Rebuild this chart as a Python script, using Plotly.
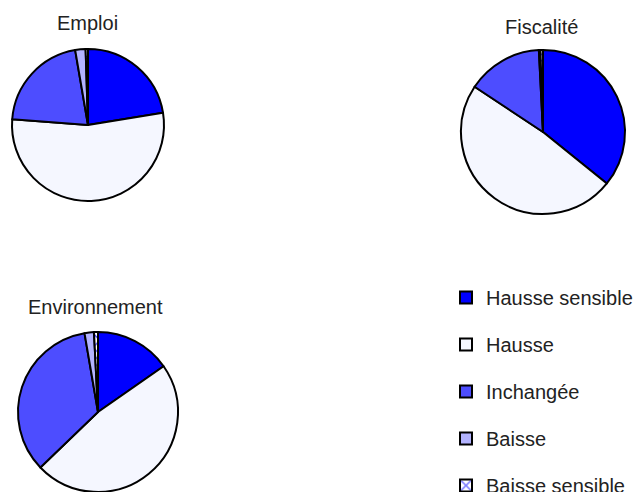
import plotly.graph_objects as go

categories = ["Hausse sensible", "Hausse", "Inchangée", "Baisse", "Baisse sensible"]
emploi = [22.4, 53.8, 21.1, 2.2, 0.5]
fiscalite = [35.8, 48.5, 14.9, 0.3, 0.5]
environnement = [15.3, 47.5, 34.5, 1.9, 0.8]
titles = ["Emploi", "Fiscalité", "Environnement"]

colors = ["#0000FF", "#F5F7FF", "#4D4DFF", "#B3B3FF", "#FFFFFF"]
patterns = ["", "", "", "", "x"]

W, H = 642, 492
OFF = 8  # page body margin
FONT = "Liberation Sans, Arial, sans-serif"


def px(x, y):
    return (x - OFF) / W, 1 - (y - OFF) / H


def dom(cx, cy, r):
    x0, y1 = px(cx - r, cy - r)
    x1, y0 = px(cx + r, cy + r)
    return dict(x=[x0, x1], y=[y0, y1])


pies = [
    (emploi, dom(88, 125, 76), (87, 23)),
    (fiscalite, dom(543, 132, 82), (541, 27)),
    (environnement, dom(98, 412, 80), (96, 307)),
]

fig = go.Figure()
for (vals, d, _), t in zip(pies, titles):
    fig.add_trace(go.Pie(
        labels=categories, values=vals, domain=d, sort=False,
        direction="clockwise", rotation=0, textinfo="none",
        hoverinfo="label+percent", showlegend=False, name=t,
        marker=dict(colors=colors, line=dict(color="black", width=2),
                    pattern=dict(shape=patterns, fgcolor="#0000FF",
                                 bgcolor="#FFFFFF", size=10, solidity=0.2)),
    ))

for i, (c, col, p) in enumerate(zip(categories, colors, patterns)):
    fig.add_trace(go.Bar(
        x=[None], y=[None], name=c, legendgroup=f"g{i}", showlegend=True,
        marker=dict(color=col, line=dict(color="black", width=2),
                    pattern=dict(shape=p, fgcolor="#0000FF", bgcolor="#FFFFFF",
                                 size=12, solidity=0.35)),
    ))

annotations = []
for (_, _, (tx, ty)), t in zip(pies, titles):
    ax, ay = px(tx, ty)
    annotations.append(dict(
        text=t, x=ax, y=ay, xref="paper", yref="paper",
        xanchor="center", yanchor="middle", showarrow=False,
        font=dict(family=FONT, size=20, color="#222222"),
    ))

lx, ly = px(446, 278)
fig.update_layout(
    width=W, height=H,
    margin=dict(l=0, r=0, t=0, b=0, autoexpand=False),
    paper_bgcolor="white", plot_bgcolor="white",
    font=dict(family=FONT, size=20, color="#222222"),
    xaxis=dict(visible=False), yaxis=dict(visible=False),
    showlegend=True,
    legend=dict(x=lx, y=ly, xanchor="left", yanchor="top",
                tracegroupgap=18, font=dict(family=FONT, size=20, color="#222222"),
                bgcolor="rgba(0,0,0,0)", traceorder="grouped"),
    annotations=annotations,
)

fig.write_html("out.html")
